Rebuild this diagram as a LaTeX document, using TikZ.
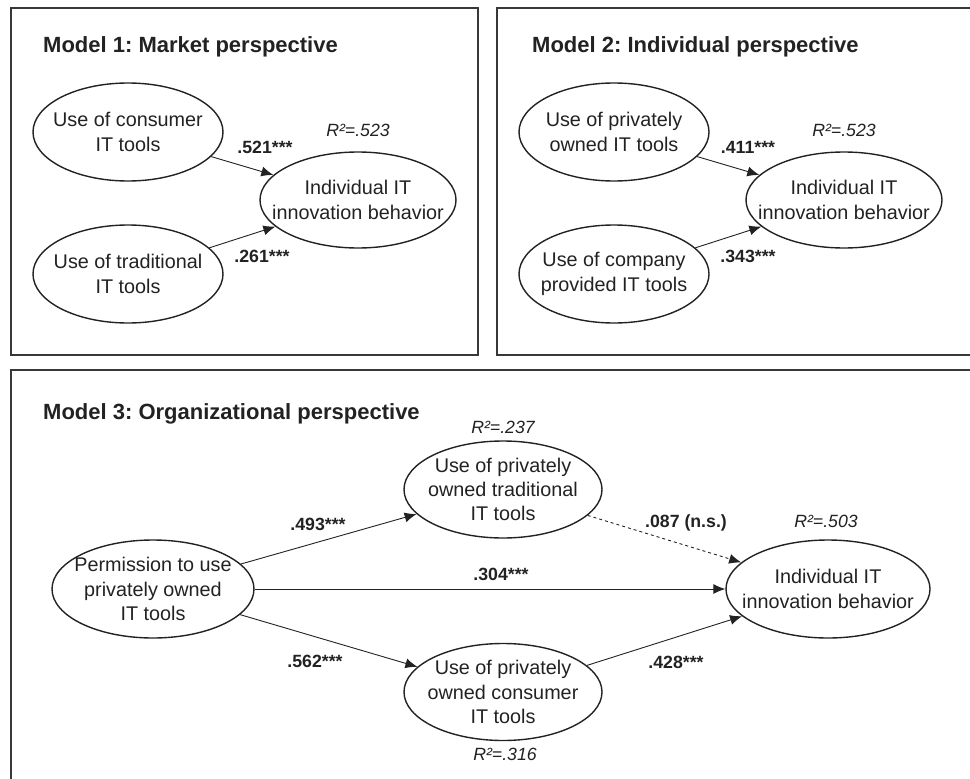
\documentclass[tikz,border=0pt]{standalone}
\usepackage{fontspec}
\setmainfont{Liberation Sans}
\usetikzlibrary{shapes.geometric,arrows.meta}
\definecolor{ink}{HTML}{222222}
\frenchspacing
\begin{document}
\begin{tikzpicture}[x=1pt,y=-1pt,
  ell/.style={ellipse,draw=ink,line width=1.4pt,inner sep=-45pt,align=center,text=ink,font=\fontsize{19.8}{24.3}\selectfont\frenchspacing},
  sm/.style={minimum width=190pt,minimum height=98pt},
  box/.style={draw=ink!90,line width=1.8pt},
  ttl/.style={anchor=base west,inner sep=0pt,font=\fontsize{22}{26}\selectfont\bfseries\frenchspacing,text=ink},
  coef/.style={anchor=base,inner sep=0pt,font=\fontsize{17.7}{20}\selectfont\bfseries,text=ink},
  rsq/.style={anchor=base,inner sep=0pt,font=\fontsize{17.7}{20}\selectfont\itshape,text=ink},
  arr/.style={draw=ink,line width=0.9pt,-{Latex[length=12pt,width=10pt]}},
]
\useasboundingbox (0,0) rectangle (970,779);
\clip (0,0) rectangle (970,779);
% Model 1
\draw[box] (11,8) rectangle (478,355);
\node[ttl] (t1) at (43,52) {Model 1: Market perspective};
\node[ell,sm] (a1) at (128,132) {Use of consumer\\IT tools};
\node[ell,sm] (b1) at (128,274) {Use of traditional\\IT tools};
\node[ell,minimum width=196pt,minimum height=96pt] (c1) at (358,200) {Individual IT\\innovation behavior};
\node[rsq] (r1) at (358,136) {R²=.523};
\node[coef] (p1) at (265,153) {.521***};
\node[coef] (q1) at (262,262) {.261***};
\draw[arr] (a1) -- (c1);
\draw[arr] (b1) -- (c1);
% Model 2
\draw[box] (497,8) rectangle (990,355);
\node[ttl] (t2) at (532,52) {Model 2: Individual perspective};
\node[ell,sm] (a2) at (614,132) {Use of privately\\owned IT tools};
\node[ell,sm] (b2) at (614,274) {Use of company\\provided IT tools};
\node[ell,minimum width=196pt,minimum height=96pt] (c2) at (844,200) {Individual IT\\innovation behavior};
\node[rsq] (r2) at (844,136) {R²=.523};
\node[coef] (p2) at (748,153) {.411***};
\node[coef] (q2) at (748,262) {.343***};
\draw[arr] (a2) -- (c2);
\draw[arr] (b2) -- (c2);
% Model 3
\draw[box] (11,370) rectangle (990,800);
\node[ttl] (t3) at (43,419) {Model 3: Organizational perspective};
\node[ell,minimum width=202pt,minimum height=98pt] (per) at (153,589) {Permission to use\\privately owned\\IT tools};
\node[ell,minimum width=198pt,minimum height=97pt] (trad) at (503,489.5) {Use of privately\\owned traditional\\IT tools};
\node[ell,minimum width=198pt,minimum height=97pt] (cons) at (503,692) {Use of privately\\owned consumer\\IT tools};
\node[ell,minimum width=204pt,minimum height=98pt] (ind) at (828,589) {Individual IT\\innovation behavior};
\node[rsq] (r3) at (503,433) {R²=.237};
\node[rsq] (r4) at (505,760) {R²=.316};
\node[rsq] (r5) at (826,527) {R²=.503};
\node[coef] (k1) at (318,530) {.493***};
\node[coef] (k2) at (315,667) {.562***};
\node[coef] (k3) at (501,580) {.304***};
\node[coef] (k4) at (686,527) {.087 (n.s.)};
\node[coef] (k5) at (676,668) {.428***};
\draw[arr] (per) -- (trad);
\draw[arr] (per) -- (cons);
\draw[arr] (per) -- (ind);
\draw[arr,dashed] (trad) -- (ind);
\draw[arr] (cons) -- (ind);
\end{tikzpicture}
\end{document}
